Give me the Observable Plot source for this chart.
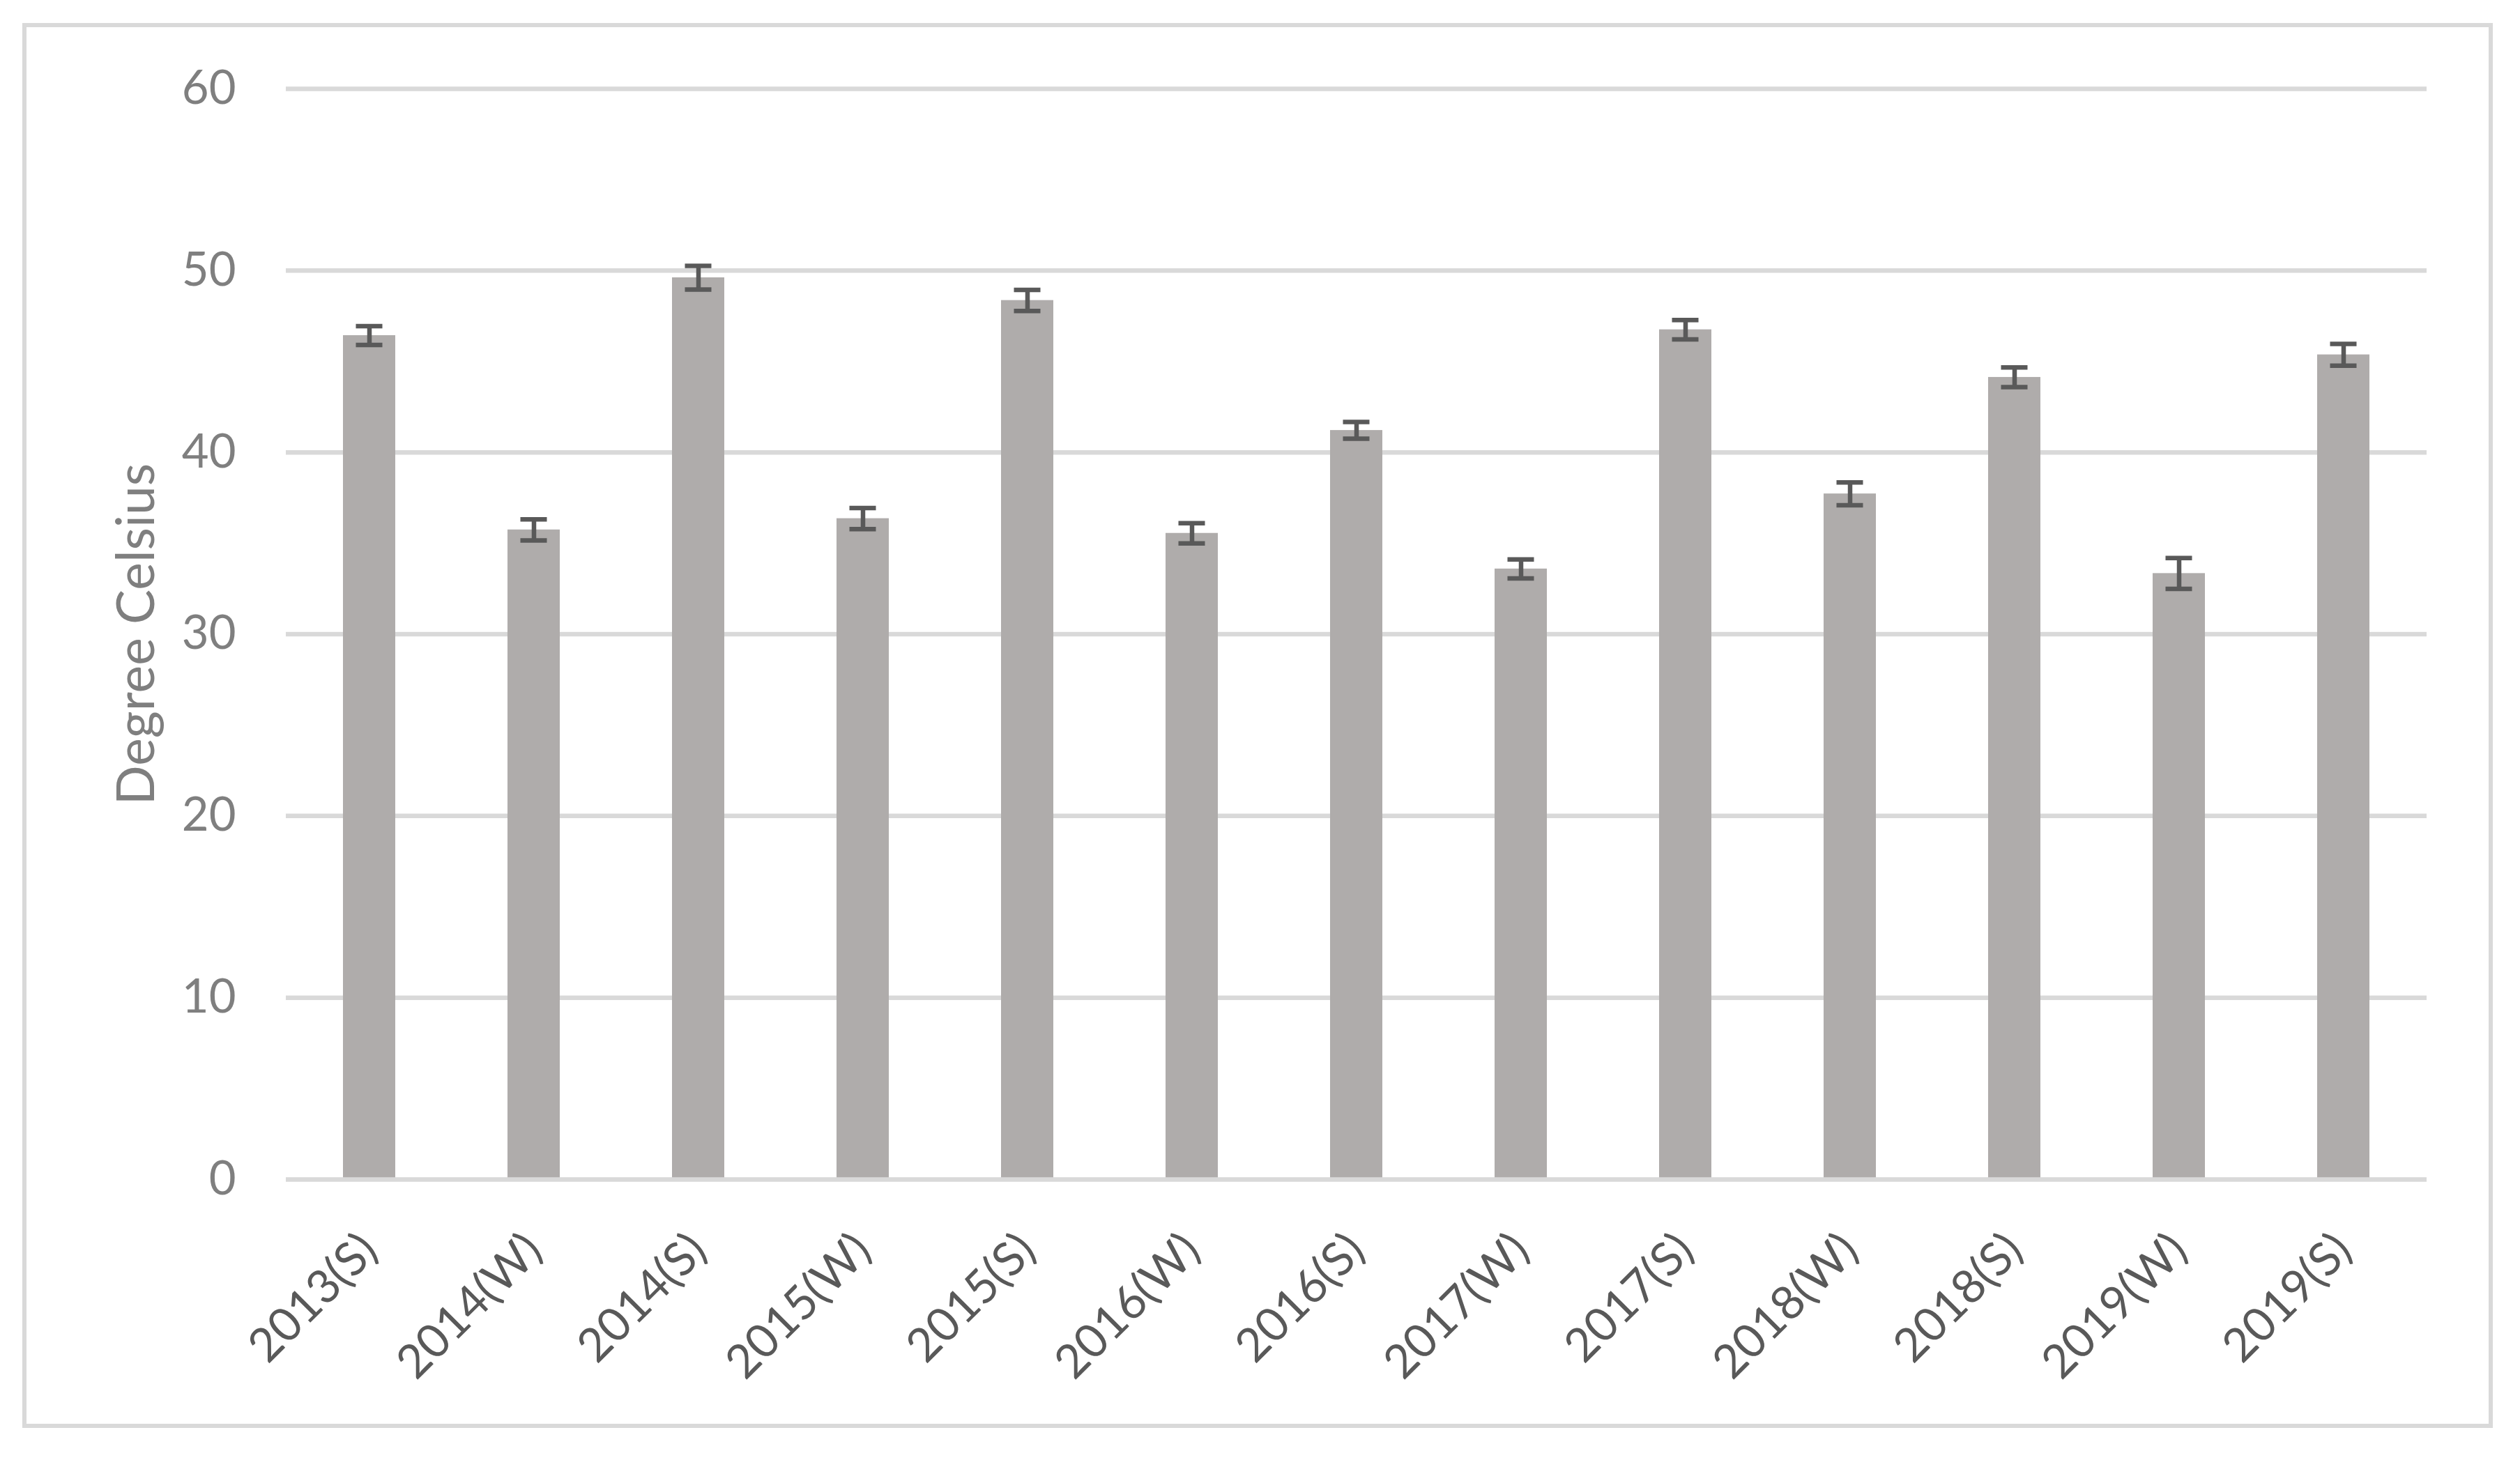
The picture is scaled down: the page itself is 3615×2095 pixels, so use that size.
<!DOCTYPE html>
<html>
<head>
<meta charset="utf-8">
<script src="https://cdn.jsdelivr.net/npm/d3@7"></script>
<script src="https://cdn.jsdelivr.net/npm/@observablehq/plot@0.6"></script>
<style>
  html, body { margin: 0; padding: 0; background: #ffffff; }
  #wrap { position: relative; width: 3615px; height: 2095px; background: #ffffff; overflow: hidden; }
  #wrap svg { position: absolute; left: 0; top: 0; }
  #border { position: absolute; left: 32px; top: 33px; width: 3544px; height: 2016px; box-sizing: border-box; border: 6.5px solid #d9d9d9; pointer-events: none; }
</style>
</head>
<body>
<div id="wrap"><div id="border"></div></div>
<script>
// ---- data ----
const categories = ["2013(S)", "2014(W)", "2014(S)", "2015(W)", "2015(S)", "2016(W)", "2016(S)", "2017(W)", "2017(S)", "2018(W)", "2018(S)", "2019(W)", "2019(S)"];
const means = [46.43, 35.74, 49.61, 36.36, 48.36, 35.55, 41.21, 33.59, 46.75, 37.72, 44.13, 33.34, 45.37];
const errors = [0.52, 0.58, 0.65, 0.58, 0.58, 0.56, 0.46, 0.52, 0.53, 0.63, 0.54, 0.85, 0.60];
const yTicks = [0, 10, 20, 30, 40, 50, 60];
const yTitle = "Degree Celsius";

const data = categories.map((c, i) => ({cat: c, mean: means[i], err: errors[i]}));

const barColor = "#afacab";
const errColor = "#595959";
const gridColor = "#d9d9d9";

const chart = Plot.plot({
  width: 3615,
  height: 2095,
  marginLeft: 410,
  marginRight: 134,
  marginTop: 127,
  marginBottom: 403,
  x: {domain: categories, paddingInner: 0.6825, paddingOuter: 0.34125, label: null},
  y: {domain: [0, 60], label: null},
  style: {fontFamily: "Lato", fontSize: "67px", background: "transparent", overflow: "visible"},
  marks: [
    Plot.ruleY(yTicks.filter(d => d !== 0), {stroke: gridColor, strokeWidth: 6.5}),
    Plot.barY(data, {x: "cat", y: "mean", fill: barColor}),
    Plot.ruleY(yTicks.filter(d => d === 0), {stroke: gridColor, strokeWidth: 6.5}),
    Plot.ruleX(data, {x: "cat", y1: d => d.mean - d.err, y2: d => d.mean + d.err, stroke: errColor, strokeWidth: 6.5}),
    Plot.tickY(data, {x: "cat", y: d => d.mean + d.err, stroke: errColor, strokeWidth: 6.5, insetLeft: 18.5, insetRight: 18.5}),
    Plot.tickY(data, {x: "cat", y: d => d.mean - d.err, stroke: errColor, strokeWidth: 6.5, insetLeft: 18.5, insetRight: 18.5}),
    Plot.axisY({ticks: yTicks, tickSize: 0, tickPadding: 72, color: "#7f7f7f", fill: "#7f7f7f", fontSize: 67, label: null}),
    Plot.axisX({tickRotate: -45, tickSize: 0, tickPadding: 90, color: errColor, fill: errColor, fontSize: 67, label: null}),
    Plot.text([yTitle], {frameAnchor: "left", textAnchor: "middle", rotate: -90, dx: -214, fill: "#7f7f7f", fontSize: 75, text: d => d})
  ]
});

document.getElementById("wrap").insertBefore(chart, document.getElementById("border"));
</script>
</body>
</html>
